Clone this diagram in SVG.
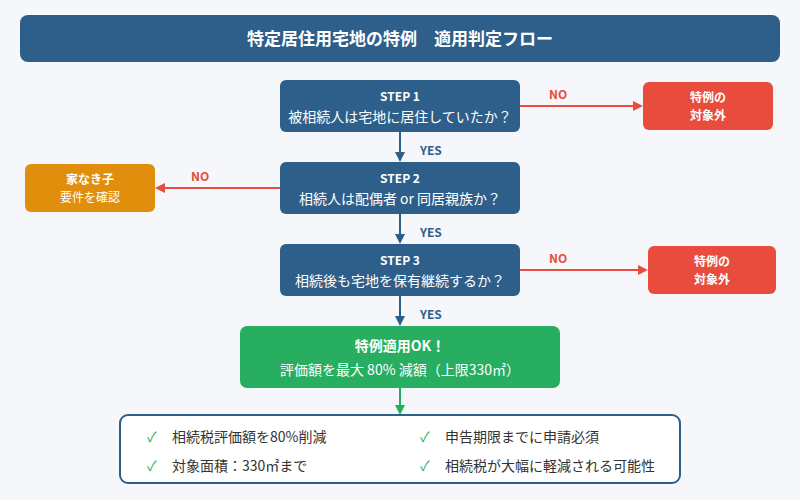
<svg xmlns="http://www.w3.org/2000/svg" width="800" height="500" viewBox="0 0 800 500">
<defs>
<style>
text{font-family:"Noto Sans CJK JP","Noto Sans",sans-serif;text-anchor:middle;}
.w{fill:#fff}
.b{font-weight:bold}
.step{fill:#2d5f8a}
.red{fill:#e74c3c}
.lblY{fill:#2d5f8a;font-size:12px;font-weight:bold;text-anchor:start}
.lblN{fill:#e74c3c;font-size:12px;font-weight:bold;text-anchor:start}
.li{fill:#333;font-size:14px;text-anchor:start}
.ck{fill:#27ae60;font-size:14px;text-anchor:start}
</style>
<marker id="ab" markerWidth="10" markerHeight="10" refX="8" refY="5" orient="auto" markerUnits="userSpaceOnUse"><path d="M0,0L10,5L0,10z" fill="#2d5f8a"/></marker>
<marker id="ar" markerWidth="10" markerHeight="10" refX="8" refY="5" orient="auto" markerUnits="userSpaceOnUse"><path d="M0,0L10,5L0,10z" fill="#e74c3c"/></marker>
<marker id="ag" markerWidth="10" markerHeight="10" refX="8" refY="5" orient="auto" markerUnits="userSpaceOnUse"><path d="M0,0L10,5L0,10z" fill="#27ae60"/></marker>
</defs>
<rect width="800" height="500" fill="#f5f7fa"/>
<g id="title"><rect x="20" y="15" width="760" height="47" rx="8" fill="#2d5f8a"/><text x="400" y="45" class="w b" font-size="17">特定居住用宅地の特例　適用判定フロー</text></g>
<g id="connectors" stroke-width="2" fill="none">
<line x1="400" y1="132" x2="400" y2="160" stroke="#2d5f8a" marker-end="url(#ab)"/>
<line x1="400" y1="214" x2="400" y2="242" stroke="#2d5f8a" marker-end="url(#ab)"/>
<line x1="400" y1="296" x2="400" y2="324" stroke="#2d5f8a" marker-end="url(#ab)"/>
<line x1="400" y1="388" x2="400" y2="413" stroke="#27ae60" marker-end="url(#ag)"/>
<line x1="520" y1="106" x2="641" y2="106" stroke="#e74c3c" marker-end="url(#ar)"/>
<line x1="280" y1="188" x2="157" y2="188" stroke="#e74c3c" marker-end="url(#ar)"/>
<line x1="520" y1="270" x2="646" y2="270" stroke="#e74c3c" marker-end="url(#ar)"/>
</g>
<g id="labels">
<text x="420" y="155" class="lblY">YES</text>
<text x="420" y="237" class="lblY">YES</text>
<text x="420" y="319" class="lblY">YES</text>
<text x="549" y="99" class="lblN">NO</text>
<text x="191" y="181" class="lblN">NO</text>
<text x="549" y="263" class="lblN">NO</text>
</g>
<g id="step1"><rect x="280" y="80" width="240" height="52" rx="6" class="step"/><text x="400" y="101" class="w b" font-size="12">STEP 1</text><text x="400" y="122" class="w" font-size="14">被相続人は宅地に居住していたか？</text></g>
<g id="step2"><rect x="280" y="162" width="240" height="52" rx="6" class="step"/><text x="400" y="183" class="w b" font-size="12">STEP 2</text><text x="400" y="204" class="w" font-size="14">相続人は配偶者 or 同居親族か？</text></g>
<g id="step3"><rect x="280" y="244" width="240" height="52" rx="6" class="step"/><text x="400" y="265" class="w b" font-size="12">STEP 3</text><text x="400" y="286" class="w" font-size="14">相続後も宅地を保有継続するか？</text></g>
<g id="no1"><rect x="643" y="82" width="130" height="48" rx="6" class="red"/><text x="708" y="102" class="w b" font-size="12">特例の</text><text x="708" y="120" class="w b" font-size="12">対象外</text></g>
<g id="no3"><rect x="648" y="246" width="128" height="48" rx="6" class="red"/><text x="712" y="266" class="w b" font-size="12">特例の</text><text x="712" y="284" class="w b" font-size="12">対象外</text></g>
<g id="no2"><rect x="25" y="164" width="130" height="48" rx="6" fill="#e08e0b"/><text x="90" y="184" class="w b" font-size="12">家なき子</text><text x="90" y="202" class="w" font-size="12">要件を確認</text></g>
<g id="ok"><rect x="240" y="326" width="320" height="62" rx="7" fill="#27ae60"/><text x="400" y="351" class="w b" font-size="14">特例適用OK！</text><text x="400" y="375" class="w" font-size="14">評価額を最大 80% 減額（上限330㎡）</text></g>
<g id="summary"><rect x="120" y="415" width="560" height="68" rx="8" fill="#fff" stroke="#2d5f8a" stroke-width="2"/>
<text x="147" y="442" class="ck">✓</text><text x="172" y="442" class="li">相続税評価額を80%削減</text>
<text x="147" y="471" class="ck">✓</text><text x="172" y="471" class="li">対象面積：330㎡まで</text>
<text x="420" y="442" class="ck">✓</text><text x="445" y="442" class="li">申告期限までに申請必須</text>
<text x="420" y="471" class="ck">✓</text><text x="445" y="471" class="li">相続税が大幅に軽減される可能性</text>
</g>
</svg>
